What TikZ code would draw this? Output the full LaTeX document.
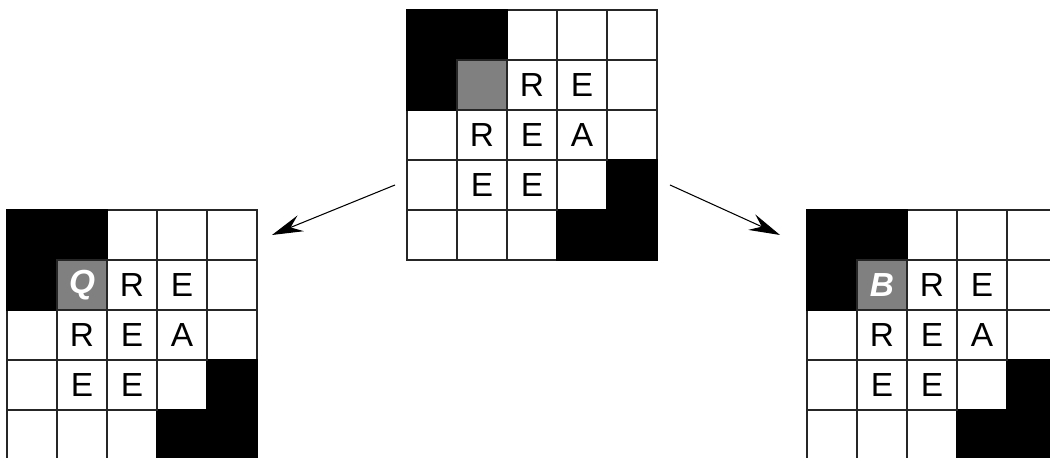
\documentclass[tikz,border=0pt]{standalone}
\usepackage{fontspec}
\setmainfont{Liberation Sans}
\usetikzlibrary{arrows.meta}
\tikzset{
  gridcell/.style={rectangle, draw=black!85, line width=0.6pt, minimum size=1cm, inner sep=0pt, outer sep=0pt, font=\fontsize{19}{19}\selectfont},
  wallcell/.style={gridcell, fill=black, draw=black},
  startcell/.style={gridcell, fill=gray, font=\fontsize{19}{19}\selectfont\bfseries\itshape, text=white},
  movearrow/.style={-{Stealth[length=6.2mm, width=3.4mm, inset=2.2mm]}, line width=0.6pt}
}

\begin{document}
\begin{tikzpicture}
\useasboundingbox (0,0) rectangle (21,9.16);
\clip (0,0) rectangle (21,9.16);
\foreach \b/\x/\y/\t in {T/8.14/3.96/{}, L/0.14/-0.04/Q, R/16.14/-0.04/B}{
  \begin{scope}[shift={(\x,\y)}]
    % empty board
    \foreach \r in {1,...,5}
      \foreach \c in {1,...,5}
        \node[gridcell] (\b-\r-\c) at (\c-0.5,5.5-\r) {};
    % walls
    \foreach \r/\c in {1/1,1/2,2/1,4/5,5/4,5/5}
      \node[wallcell] (\b-\r-\c) at (\c-0.5,5.5-\r) {};
    % start cell
    \node[startcell] (\b-2-2) at (1.5,3.5) {\t};
    % letters
    \foreach \r/\c/\l in {2/3/R,2/4/E,3/2/R,3/3/E,3/4/A,4/2/E,4/3/E}
      \node[gridcell] (\b-\r-\c) at (\c-0.5,5.5-\r) {\l};
  \end{scope}
}
\draw[movearrow] ([xshift=-0.24cm]T-4-1.west) -- ([xshift=0.3cm]L-1-5.east);
\draw[movearrow] ([xshift=0.26cm]T-4-5.east) -- ([xshift=-0.54cm]R-1-1.west);
\end{tikzpicture}
\end{document}
